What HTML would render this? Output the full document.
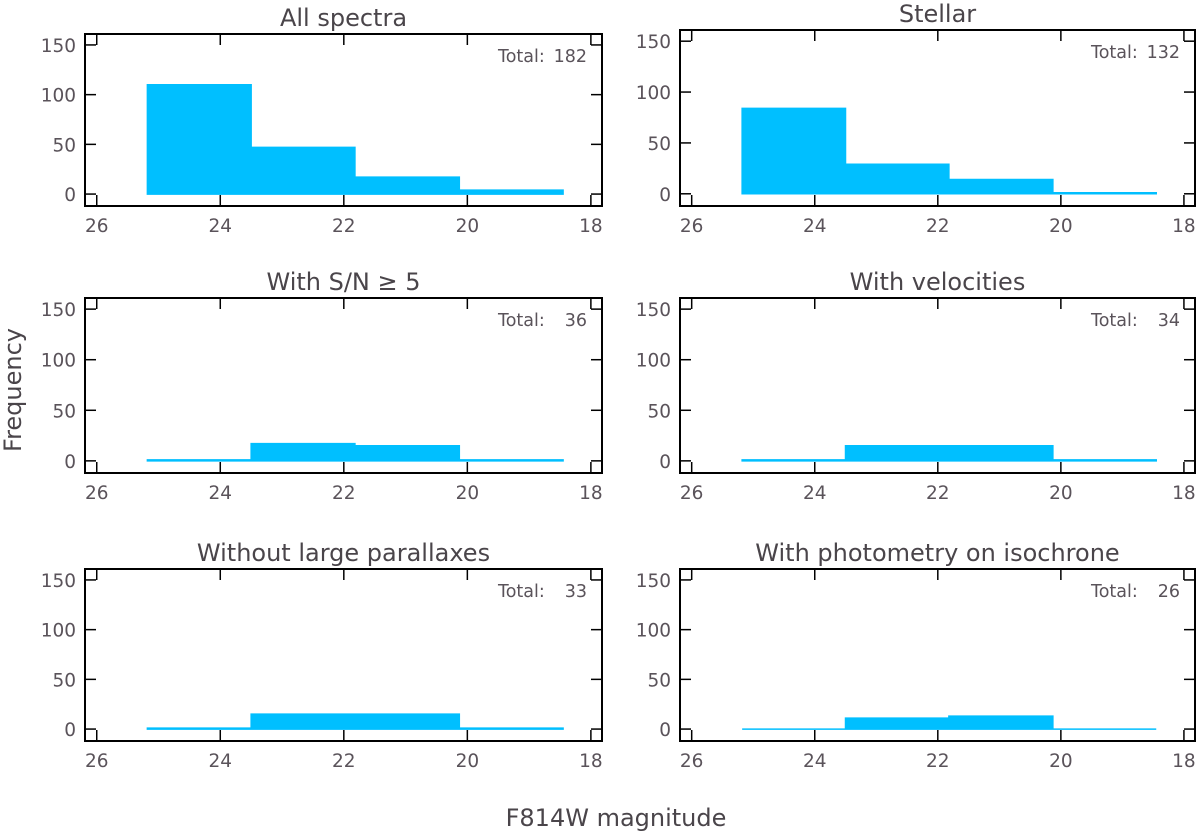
<!DOCTYPE html>
<html><head><meta charset="utf-8">
<style>
html,body{margin:0;padding:0;background:#fff;}
svg{display:block;font-family:"DejaVu Sans","Liberation Sans",sans-serif;}
</style></head>
<body>
<svg id="chart" width="1200" height="837" viewBox="0 0 1200 837" xmlns="http://www.w3.org/2000/svg">
<text x="21" y="390" transform="rotate(-90 21 390)" text-anchor="middle" font-size="24" fill="#4a454a">Frequency</text>
<text x="616" y="826" text-anchor="middle" font-size="24" fill="#4a454a">F814W magnitude</text>
</svg>
<script>
const titles = ["All spectra","Stellar","With S/N \u2265 5","With velocities","Without large parallaxes","With photometry on isochrone"];
const totals = [182,132,36,34,33,26];
const binEdges = [25.18,23.5,21.82,20.13,18.45];
const countsAll = [110,47,17,4];
const countsStellar = [84,29,14,1];
const countsSN = [1,17,15,1];
const countsVel = [1,15,15,1];
const countsPar = [1,15,15,1];
const countsIso = [0,11,13,0];
const xTicks = [26,24,22,20,18];
const yTicks = [0,50,100,150];
const series = [countsAll,countsStellar,countsSN,countsVel,countsPar,countsIso];

const NS="http://www.w3.org/2000/svg";
const svg=document.getElementById('chart');
function mk(tag,attrs,parent){const e=document.createElementNS(NS,tag);for(const k in attrs)e.setAttribute(k,attrs[k]);(parent||svg).appendChild(e);return e;}

const frames=[[85,602,34,206],[680,1195,30,206],[85,602,298,473],[680,1195,298,473],[85,602,569,741],[680,1195,569,741]];
const xMin=26.19,xMax=17.82,yMin=-12,yMax=161;

for(let p=0;p<6;p++){
  const [L,R,T,B]=frames[p];
  const g=mk('g',{});
  
  
  const xs=v=>L+(v-xMin)/(xMax-xMin)*(R-L);
  const ys=v=>B-(v-yMin)/(yMax-yMin)*(B-T);
  const c=series[p];
  let d='M'+xs(binEdges[0])+','+ys(0);
  for(let i=0;i<c.length;i++){d+=' L'+xs(binEdges[i])+','+ys(c[i])+' L'+xs(binEdges[i+1])+','+ys(c[i]);}
  d+=' L'+xs(binEdges[c.length])+','+ys(0)+' Z';
  const h=mk('path',{d:d,fill:'#00bfff',stroke:'#00bfff','stroke-width':'1.5'},g);
  
  
  xTicks.forEach(t=>{
    const x=xs(t);
    mk('line',{x1:x,x2:x,y1:B,y2:B-11,stroke:'#000','stroke-width':'1.5'},g);
    mk('line',{x1:x,x2:x,y1:T,y2:T+11,stroke:'#000','stroke-width':'1.5'},g);
    const tl=mk('text',{x:x,y:B+26,'text-anchor':'middle','font-size':'18.5',fill:'#5a535a'},g);
    tl.textContent=t;
    
    
  });
  yTicks.forEach(t=>{
    const y=ys(t);
    mk('line',{x1:L,x2:L+11,y1:y,y2:y,stroke:'#000','stroke-width':'1.5'},g);
    mk('line',{x1:R,x2:R-11,y1:y,y2:y,stroke:'#000','stroke-width':'1.5'},g);
    const tl=mk('text',{x:L-9,y:y+7,'text-anchor':'end','font-size':'18.5',fill:'#5a535a'},g);
    tl.textContent=t;
    
    
  });
  mk('rect',{x:L,y:T,width:R-L,height:B-T,fill:'none',stroke:'#000','stroke-width':'2'},g);
  const ti=mk('text',{x:(L+R)/2,y:T-8,'text-anchor':'middle','font-size':'24',fill:'#4a454a'},g);
  ti.textContent=titles[p];
  
  
  const tt=mk('text',{x:R-104,y:T+28,'font-size':'17.5',fill:'#5a535a'},g);
  tt.textContent='Total:';
  
  
  const tv=mk('text',{x:R-15,y:T+28,'text-anchor':'end','font-size':'17.5',fill:'#5a535a'},g);
  tv.textContent=totals[p];
  
  
}
</script>
</body></html>
